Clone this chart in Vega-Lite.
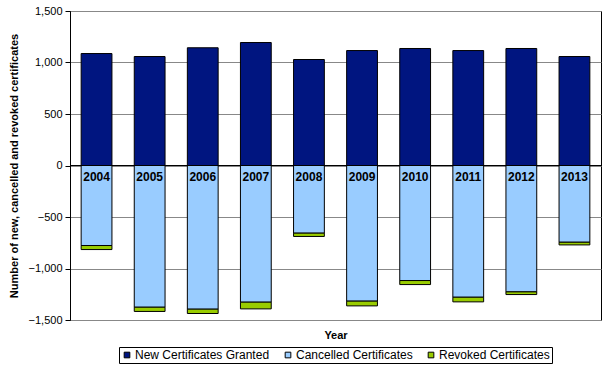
{
  "$schema": "https://vega.github.io/schema/vega-lite/v6.json",
  "autosize": "none",
  "padding": {"left": 70, "top": 11, "right": 6, "bottom": 51},
  "width": 531,
  "height": 309,
  "background": "white",
  "config": {
    "font": "Liberation Sans",
    "view": {"stroke": "black", "strokeWidth": 1},
    "axis": {"labelFont": "Liberation Sans", "titleFont": "Liberation Sans"}
  },
  "data": {
    "values": [
      {"year": "2004", "type": "New Certificates Granted", "value": 1087, "ord": 1},
      {"year": "2004", "type": "Cancelled Certificates", "value": -777, "ord": 2},
      {"year": "2004", "type": "Revoked Certificates", "value": -39, "ord": 3},
      {"year": "2005", "type": "New Certificates Granted", "value": 1058, "ord": 1},
      {"year": "2005", "type": "Cancelled Certificates", "value": -1376, "ord": 2},
      {"year": "2005", "type": "Revoked Certificates", "value": -41, "ord": 3},
      {"year": "2006", "type": "New Certificates Granted", "value": 1143, "ord": 1},
      {"year": "2006", "type": "Cancelled Certificates", "value": -1395, "ord": 2},
      {"year": "2006", "type": "Revoked Certificates", "value": -42, "ord": 3},
      {"year": "2007", "type": "New Certificates Granted", "value": 1194, "ord": 1},
      {"year": "2007", "type": "Cancelled Certificates", "value": -1327, "ord": 2},
      {"year": "2007", "type": "Revoked Certificates", "value": -65, "ord": 3},
      {"year": "2008", "type": "New Certificates Granted", "value": 1029, "ord": 1},
      {"year": "2008", "type": "Cancelled Certificates", "value": -657, "ord": 2},
      {"year": "2008", "type": "Revoked Certificates", "value": -32, "ord": 3},
      {"year": "2009", "type": "New Certificates Granted", "value": 1116, "ord": 1},
      {"year": "2009", "type": "Cancelled Certificates", "value": -1317, "ord": 2},
      {"year": "2009", "type": "Revoked Certificates", "value": -46, "ord": 3},
      {"year": "2010", "type": "New Certificates Granted", "value": 1136, "ord": 1},
      {"year": "2010", "type": "Cancelled Certificates", "value": -1117, "ord": 2},
      {"year": "2010", "type": "Revoked Certificates", "value": -39, "ord": 3},
      {"year": "2011", "type": "New Certificates Granted", "value": 1116, "ord": 1},
      {"year": "2011", "type": "Cancelled Certificates", "value": -1279, "ord": 2},
      {"year": "2011", "type": "Revoked Certificates", "value": -45, "ord": 3},
      {"year": "2012", "type": "New Certificates Granted", "value": 1136, "ord": 1},
      {"year": "2012", "type": "Cancelled Certificates", "value": -1227, "ord": 2},
      {"year": "2012", "type": "Revoked Certificates", "value": -26, "ord": 3},
      {"year": "2013", "type": "New Certificates Granted", "value": 1058, "ord": 1},
      {"year": "2013", "type": "Cancelled Certificates", "value": -745, "ord": 2},
      {"year": "2013", "type": "Revoked Certificates", "value": -26, "ord": 3}
    ]
  },
  "encoding": {
    "x": {
      "field": "year",
      "type": "nominal",
      "scale": {"paddingInner": 0.42, "paddingOuter": 0.21},
      "axis": {
        "title": "Year",
        "labels": false,
        "ticks": false,
        "domain": false,
        "titleFontSize": 11,
        "titleFontWeight": "bold",
        "titleColor": "black",
        "titlePadding": 9
      }
    }
  },
  "layer": [
    {
      "mark": {"type": "bar", "stroke": "black", "strokeWidth": 1},
      "encoding": {
        "y": {
          "field": "value",
          "type": "quantitative",
          "stack": "zero",
          "scale": {"domain": [-1500, 1500], "nice": false},
          "axis": {
            "title": "Number of new, cancelled and revoked certificates",
            "values": [-1500, -1000, -500, 0, 500, 1000, 1500],
            "format": ",.0f",
            "labelFontSize": 11,
            "labelColor": "black",
            "labelPadding": 3,
            "tickColor": "black",
            "tickSize": 5,
            "domainColor": "black",
            "gridColor": "#888888",
            "titleFontSize": 11,
            "titleFontWeight": "bold",
            "titleColor": "black",
            "titlePadding": 9
          }
        },
        "color": {
          "field": "type",
          "type": "nominal",
          "scale": {
            "domain": ["New Certificates Granted", "Cancelled Certificates", "Revoked Certificates"],
            "range": ["#001580", "#99CCFF", "#99CC00"]
          },
          "legend": {
            "title": null,
            "orient": "none",
            "legendX": 49,
            "legendY": 336,
            "direction": "horizontal",
            "strokeColor": "black",
            "padding": 2,
            "symbolType": "square",
            "symbolSize": 32,
            "symbolStrokeColor": "black",
            "symbolStrokeWidth": 1,
            "symbolOpacity": 1,
            "labelFontSize": 12,
            "labelColor": "black",
            "labelOffset": 2,
            "columnPadding": 12
          }
        },
        "order": {"field": "ord", "type": "quantitative"}
      }
    },
    {
      "mark": {"type": "rule", "color": "black", "strokeWidth": 1},
      "encoding": {"y": {"datum": 0, "type": "quantitative"}, "x": {}}
    },
    {
      "transform": [{"filter": "datum.ord == 1"}],
      "mark": {"type": "text", "fontSize": 12, "fontWeight": "bold", "color": "black", "baseline": "middle", "dy": 11},
      "encoding": {
        "y": {"datum": 0, "type": "quantitative"},
        "text": {"field": "year"}
      }
    }
  ]
}
